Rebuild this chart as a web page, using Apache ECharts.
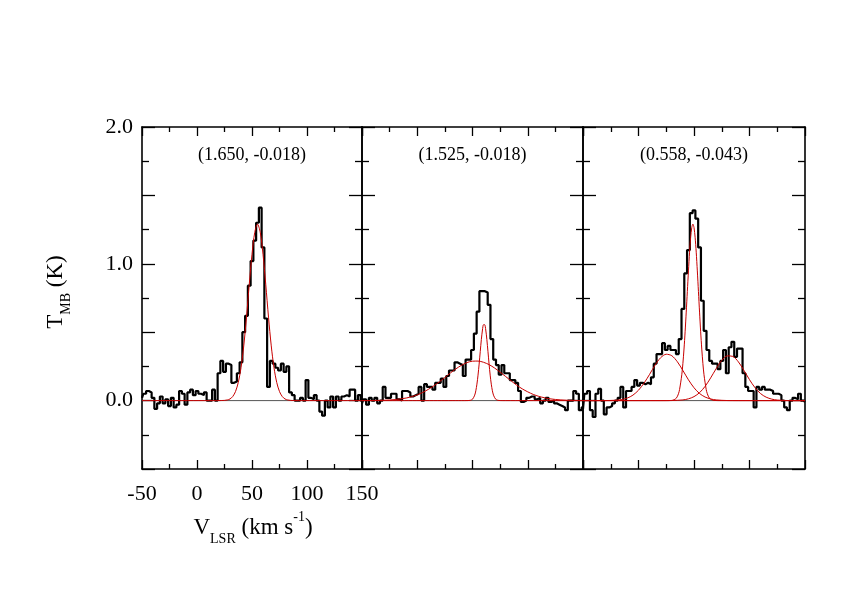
<!DOCTYPE html>
<html>
<head>
<meta charset="utf-8">
<style>
  html, body { margin: 0; padding: 0; background: #fff; }
  #chart { width: 842px; height: 597px; }
</style>
<script src="https://cdn.jsdelivr.net/npm/echarts/dist/echarts.min.js"></script>
</head>
<body>
<div id="chart"></div>
<script>
// ---------------- data ----------------
const vel = [-50,-47.5,-45,-42.5,-40,-37.5,-35,-32.5,-30,-27.5,-25,-22.5,-20,-17.5,-15,-12.5,-10,-7.5,-5,-2.5,
  0,2.5,5,7.5,10,12.5,15,17.5,20,22.5,25,27.5,30,32.5,35,37.5,40,42.5,45,47.5,
  50,52.5,55,57.5,60,62.5,65,67.5,70,72.5,75,77.5,80,82.5,85,87.5,90,92.5,95,97.5,
  100,102.5,105,107.5,110,112.5,115,117.5,120,122.5,125,127.5,130,132.5,135,137.5,140,142.5,145,147.5,150];

const spec1 = [0.02,0.05,0.07,0.06,0.02,-0.06,-0.02,0.03,-0.02,0.01,
  -0.04,0.02,-0.05,-0.03,0.07,0.05,-0.03,0.06,0.08,0.04,
  0.07,0.05,0.04,0.06,0.0,0.0,0.08,0.0,0.2,0.29,
  0.21,0.27,0.26,0.13,0.14,0.2,0.28,0.5,0.62,0.84,
  1.02,1.17,1.3,1.41,1.12,0.6,0.1,0.29,0.27,0.24,
  0.22,0.27,0.21,0.25,0.06,0.04,0.0,0.0,0.02,0.0,
  0.15,0.02,0.01,0.04,0.0,-0.08,-0.11,0.0,-0.05,0.03,
  -0.05,0.03,0.0,0.03,0.04,0.03,0.08,0.08,0.0,0.04,
  0.0];

const spec2 = [-0.02,0.01,-0.03,0.02,0.0,0.02,-0.02,0.0,0.1,0.02,
  0.02,0.05,0.05,0.01,0.0,0.07,0.07,0.06,0.03,0.04,
  0.05,0.1,0.0,0.12,0.1,0.1,0.08,0.13,0.13,0.16,
  0.1,0.18,0.22,0.22,0.28,0.27,0.26,0.18,0.3,0.3,
  0.37,0.49,0.65,0.8,0.8,0.79,0.7,0.45,0.3,0.26,
  0.19,0.26,0.2,0.2,0.15,0.15,0.13,0.07,-0.01,0.0,
  0.02,0.03,0.03,0.01,0.02,-0.02,0.0,0.02,-0.01,0.0,
  -0.02,-0.03,-0.04,-0.05,-0.07,0.0,0.0,0.07,0.05,-0.07,
  -0.05];

const spec3 = [-0.06,0.05,0.07,-0.07,-0.12,0.05,0.085,0.0,-0.1,-0.05,
  -0.04,-0.02,0.0,0.02,0.1,-0.05,0.07,0.07,0.1,0.15,
  0.11,0.13,0.12,0.13,0.12,0.17,0.27,0.34,0.34,0.42,
  0.37,0.4,0.37,0.37,0.34,0.45,0.67,0.93,1.1,1.37,
  1.39,1.33,1.12,0.73,0.51,0.37,0.29,0.27,0.27,0.23,
  0.29,0.37,0.2,0.39,0.43,0.32,0.38,0.38,0.2,0.1,
  0.07,0.07,-0.05,0.1,0.08,0.1,0.08,0.08,0.07,0.05,
  0.05,0.04,0.0,-0.05,-0.07,0.0,0.02,0.01,0.05,0.0,
  -0.01];

// Fitted gaussian components
const fit1 = [[-50,0],[15,0],[20,0.0001],[25,0.0016],[27.5,0.0047],[30,0.012],[32.5,0.030],[35,0.066],[37.5,0.132],
  [40,0.24],[42.5,0.40],[45,0.61],[47.5,0.85],[50,1.07],[52.5,1.23],[55,1.29],[57.5,1.23],[60,1.07],[62.5,0.85],
  [65,0.61],[67.5,0.40],[70,0.24],[72.5,0.132],[75,0.066],[77.5,0.030],[80,0.012],[82.5,0.0047],[85,0.0016],
  [90,0.0001],[95,0],[150,0]];

const fit2a = [[-50,0.0002],[-40,0.0008],[-30,0.0026],[-20,0.0075],[-10,0.019],[-5,0.029],[0,0.042],[5,0.060],
  [10,0.082],[15,0.108],[20,0.137],[25,0.169],[30,0.202],[35,0.232],[40,0.258],[45,0.278],[50,0.288],[55,0.289],
  [60,0.280],[65,0.263],[70,0.238],[75,0.208],[80,0.176],[85,0.144],[90,0.113],[95,0.086],[100,0.064],[105,0.045],
  [110,0.031],[115,0.021],[120,0.013],[130,0.005],[140,0.0016],[150,0.0005]];

const fit2b = [[-50,0],[40,0],[46,0.0003],[48,0.0019],[50,0.010],[52,0.040],[53,0.072],[54,0.120],[55,0.186],
  [56,0.267],[57,0.358],[58,0.446],[59,0.516],[60,0.555],[61,0.555],[62,0.516],[63,0.446],[64,0.358],[65,0.267],
  [66,0.186],[67,0.120],[68,0.072],[69,0.040],[71,0.010],[73,0.0019],[75,0.0003],[80,0],[150,0]];

const fit3a = [[-50,0],[-30,0.0003],[-20,0.003],[-15,0.008],[-10,0.019],[-5,0.040],[0,0.076],[5,0.128],[10,0.192],
  [15,0.260],[20,0.314],[25,0.339],[30,0.328],[35,0.284],[40,0.220],[45,0.152],[50,0.094],[55,0.052],[60,0.026],
  [65,0.012],[70,0.005],[80,0.0005],[90,0],[150,0]];

const fit3b = [[-50,0],[25,0],[30,0.0012],[34,0.017],[36,0.050],[37,0.081],[39,0.189],[40,0.272],[41,0.377],
  [42,0.503],[43,0.647],[44,0.797],[45,0.948],[46,1.085],[47,1.194],[48,1.265],[49,1.29],[50,1.265],[51,1.194],
  [52,1.085],[53,0.948],[54,0.797],[55,0.647],[56,0.503],[57,0.377],[58,0.272],[59,0.189],[61,0.081],[62,0.050],
  [64,0.017],[68,0.0012],[75,0],[150,0]];

const fit3c = [[-50,0],[20,0],[30,0.0005],[40,0.005],[45,0.013],[50,0.029],[55,0.058],[60,0.104],[65,0.166],
  [70,0.234],[75,0.294],[80,0.327],[85,0.323],[90,0.283],[95,0.221],[100,0.153],[105,0.094],[110,0.051],
  [115,0.025],[120,0.011],[125,0.004],[135,0.0004],[150,0]];

const titles = ['(1.650, -0.018)', '(1.525, -0.018)', '(0.558, -0.043)'];
const yLabelValues = [0, 1, 2];
const xRange = [-50, 150];
const yRange = [-0.5, 2.0];

// ---------------- layout ----------------
const FONT = '"Liberation Serif", "Times New Roman", serif';
const panels = [
  { left: 142, width: 220, spec: spec1, fits: [fit1] },
  { left: 362, width: 221, spec: spec2, fits: [fit2a, fit2b] },
  { left: 583, width: 222, spec: spec3, fits: [fit3a, fit3b, fit3c] }
];
const TOP = 127, HEIGHT = 342;

const grids = [], xAxes = [], yAxes = [], series = [];
const axLine = { show: true, onZero: false, lineStyle: { color: '#000', width: 1.6 } };

panels.forEach((p, i) => {
  grids.push({ left: p.left, top: TOP, width: p.width, height: HEIGHT, containLabel: false });
  const showX = i === 0;
  const xBase = {
    type: 'value', gridIndex: i, min: xRange[0], max: xRange[1], interval: 50,
    axisLine: axLine, splitLine: { show: false },
    minorTick: { show: true, splitNumber: 2, length: 5, lineStyle: { color: '#000', width: 1.3 } },
    axisTick: { show: true, inside: true, length: 9, lineStyle: { color: '#000', width: 1.3 } }
  };
  xAxes.push(Object.assign({}, xBase, {
    position: 'bottom',
    axisLabel: { show: showX, margin: 14, fontSize: 22, color: '#000', fontFamily: FONT,
      showMinLabel: true, showMaxLabel: true, interval: 0, formatter: v => String(v) }
  }));
  xAxes.push(Object.assign({}, xBase, { position: 'top', axisLabel: { show: false } }));

  const yBase = {
    type: 'value', gridIndex: i, min: yRange[0], max: yRange[1], interval: 0.5,
    axisLine: axLine, splitLine: { show: false },
    minorTick: { show: true, splitNumber: 2, length: 7, lineStyle: { color: '#000', width: 1.3 } },
    axisTick: { show: true, inside: true, length: 13, lineStyle: { color: '#000', width: 1.3 } }
  };
  yAxes.push(Object.assign({}, yBase, {
    position: 'left',
    axisLabel: { show: i === 0, margin: 9, fontSize: 22, color: '#000', fontFamily: FONT,
      showMinLabel: true, showMaxLabel: true,
      formatter: v => (yLabelValues.indexOf(Math.round(v * 100) / 100) >= 0 ? v.toFixed(1) : '') }
  }));
  yAxes.push(Object.assign({}, yBase, { position: 'right', axisLabel: { show: false } }));

  const xi = 2 * i, yi = 2 * i;
  series.push({
    type: 'line', xAxisIndex: xi, yAxisIndex: yi, data: [[xRange[0], 0], [xRange[1], 0]],
    symbol: 'none', lineStyle: { color: '#555', width: 1 }, silent: true, z: 1
  });
  series.push({
    type: 'line', xAxisIndex: xi, yAxisIndex: yi, step: 'middle',
    data: vel.map((v, k) => [v, p.spec[k]]),
    symbol: 'none', lineStyle: { color: '#000', width: 2.2 }, silent: true, z: 2, clip: true
  });
  p.fits.forEach(f => {
    series.push({
      type: 'line', xAxisIndex: xi, yAxisIndex: yi, data: f, smooth: 0.3,
      symbol: 'none', lineStyle: { color: '#c80000', width: 1 }, silent: true, z: 3
    });
  });
});

const graphics = [];
const titleX = [252, 472.5, 694];
titles.forEach((t, i) => {
  graphics.push({
    type: 'text', x: titleX[i], y: 155,
    style: { text: t, fontSize: 18, fontFamily: FONT, fill: '#000', align: 'center', verticalAlign: 'middle' }
  });
});
const richStyles = {
  m: { fontSize: 23, fontFamily: FONT, lineHeight: 36, fill: '#000' },
  s: { fontSize: 14, fontFamily: FONT, lineHeight: 13, verticalAlign: 'bottom', fill: '#000' },
  p: { fontSize: 14, fontFamily: FONT, lineHeight: 16, verticalAlign: 'top', fill: '#000' }
};
graphics.push({
  type: 'text', x: 253, y: 528,
  style: { text: '{m|V}{s|LSR}{m| (km s}{p|-1}{m|)}', rich: richStyles, align: 'center', verticalAlign: 'middle' }
});
graphics.push({
  type: 'text', x: 55.5, y: 292, rotation: Math.PI / 2,
  style: { text: '{m|T}{s|MB}{m| (K)}', rich: richStyles, align: 'center', verticalAlign: 'middle' }
});

const chart = echarts.init(document.getElementById('chart'), null, { renderer: 'canvas' });
chart.setOption({
  animation: false,
  backgroundColor: '#fff',
  grid: grids,
  xAxis: xAxes,
  yAxis: yAxes,
  series: series,
  graphic: graphics
});
</script>
</body>
</html>
